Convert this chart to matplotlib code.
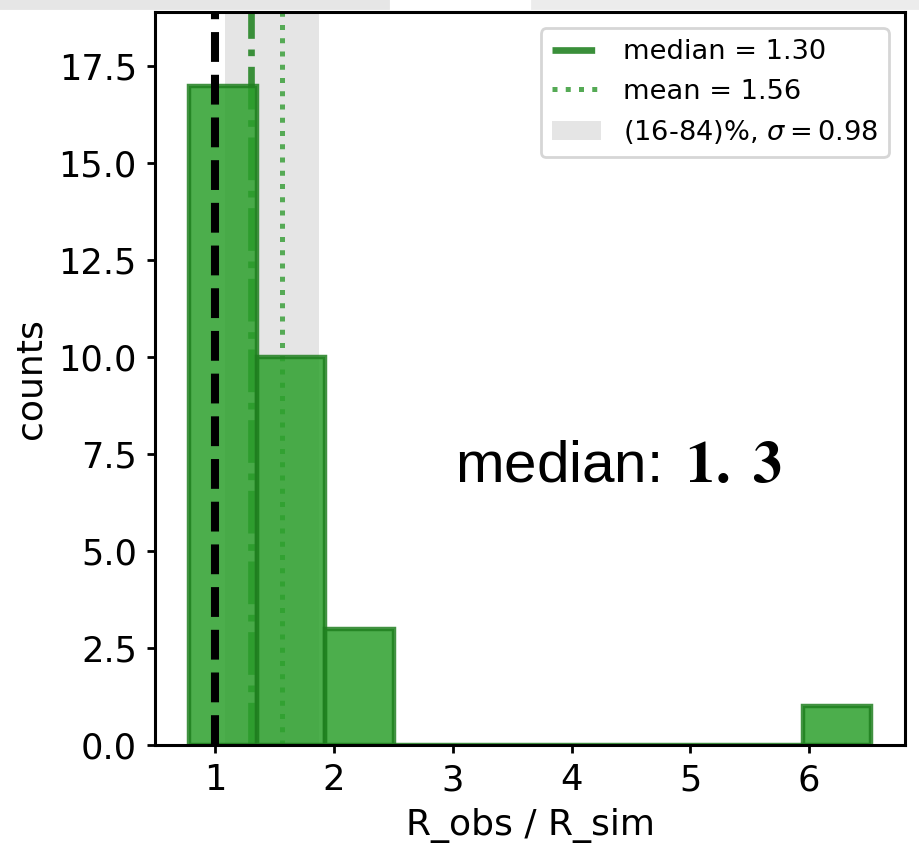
import numpy as np
import matplotlib
matplotlib.use('Agg')
import matplotlib.pyplot as plt
from matplotlib.patches import Rectangle

# histogram of R_obs / R_sim
counts = [17, 10, 3, 0, 0, 0, 0, 0, 0, 1]
x_lo, x_hi = 0.78, 6.52
ref_value = 1.0
median_val = 1.30
mean_val = 1.56
p16, p84 = 1.08, 1.87
sigma = 0.98

edges = np.linspace(x_lo, x_hi, len(counts) + 1)

fig = plt.figure(figsize=(4.6, 4.26), dpi=200)
ax = fig.add_axes([0.1685, 0.1256, 0.8152, 0.8603])

ax.axvspan(p16, p84, color='gray', alpha=0.2, lw=0, zorder=0,
           label='(16-84)%, $\\sigma = $' + '%.2f' % sigma)
ax.axvline(median_val, color='#3a8f3a', ls='-.', lw=2.4, zorder=1,
           label='median = %.2f' % median_val)
ax.axvline(mean_val, color='#55aa55', ls=':', lw=1.8, zorder=1,
           label='mean = %.2f' % mean_val)
ax.hist(edges[:-1], bins=edges, weights=counts, color='tab:green',
        edgecolor='#1f7f1f', alpha=0.85, lw=1.6, zorder=2)
ax.axvline(ref_value, color='k', ls='--', lw=2.9, zorder=3)

ax.set_ylim(0, 18.9)
ax.set_xlabel('R_obs / R_sim', fontsize=13)
ax.set_ylabel('counts', fontsize=13)
ax.tick_params(labelsize=12.7, width=1, length=3)
for s in ax.spines.values():
    s.set_linewidth(1.1)

h, l = ax.get_legend_handles_labels()
order = [1, 2, 0]
ax.legend([h[i] for i in order], [l[i] for i in order], loc='upper right',
          fontsize=9.8, handlelength=1.8, borderaxespad=0.6)

# median label, bold math number with the old-style gap after the point
s = '%.1f' % median_val
ax.text(3.02, 6.77, 'median: $\\,\\mathbf{%s.\\,\\,%s}$' % tuple(s.split('.')),
        fontsize=21, family='Liberation Sans', math_fontfamily='stix')

# bits of the screenshot border above the plot
fig.patches.append(Rectangle((0, 0.991), 0.422, 0.009, transform=fig.transFigure,
                             color='#e6e6e6', zorder=0))
fig.patches.append(Rectangle((0.578, 0.991), 0.422, 0.009, transform=fig.transFigure,
                             color='#ececec', zorder=0))

fig.savefig('out.png', dpi=200)
